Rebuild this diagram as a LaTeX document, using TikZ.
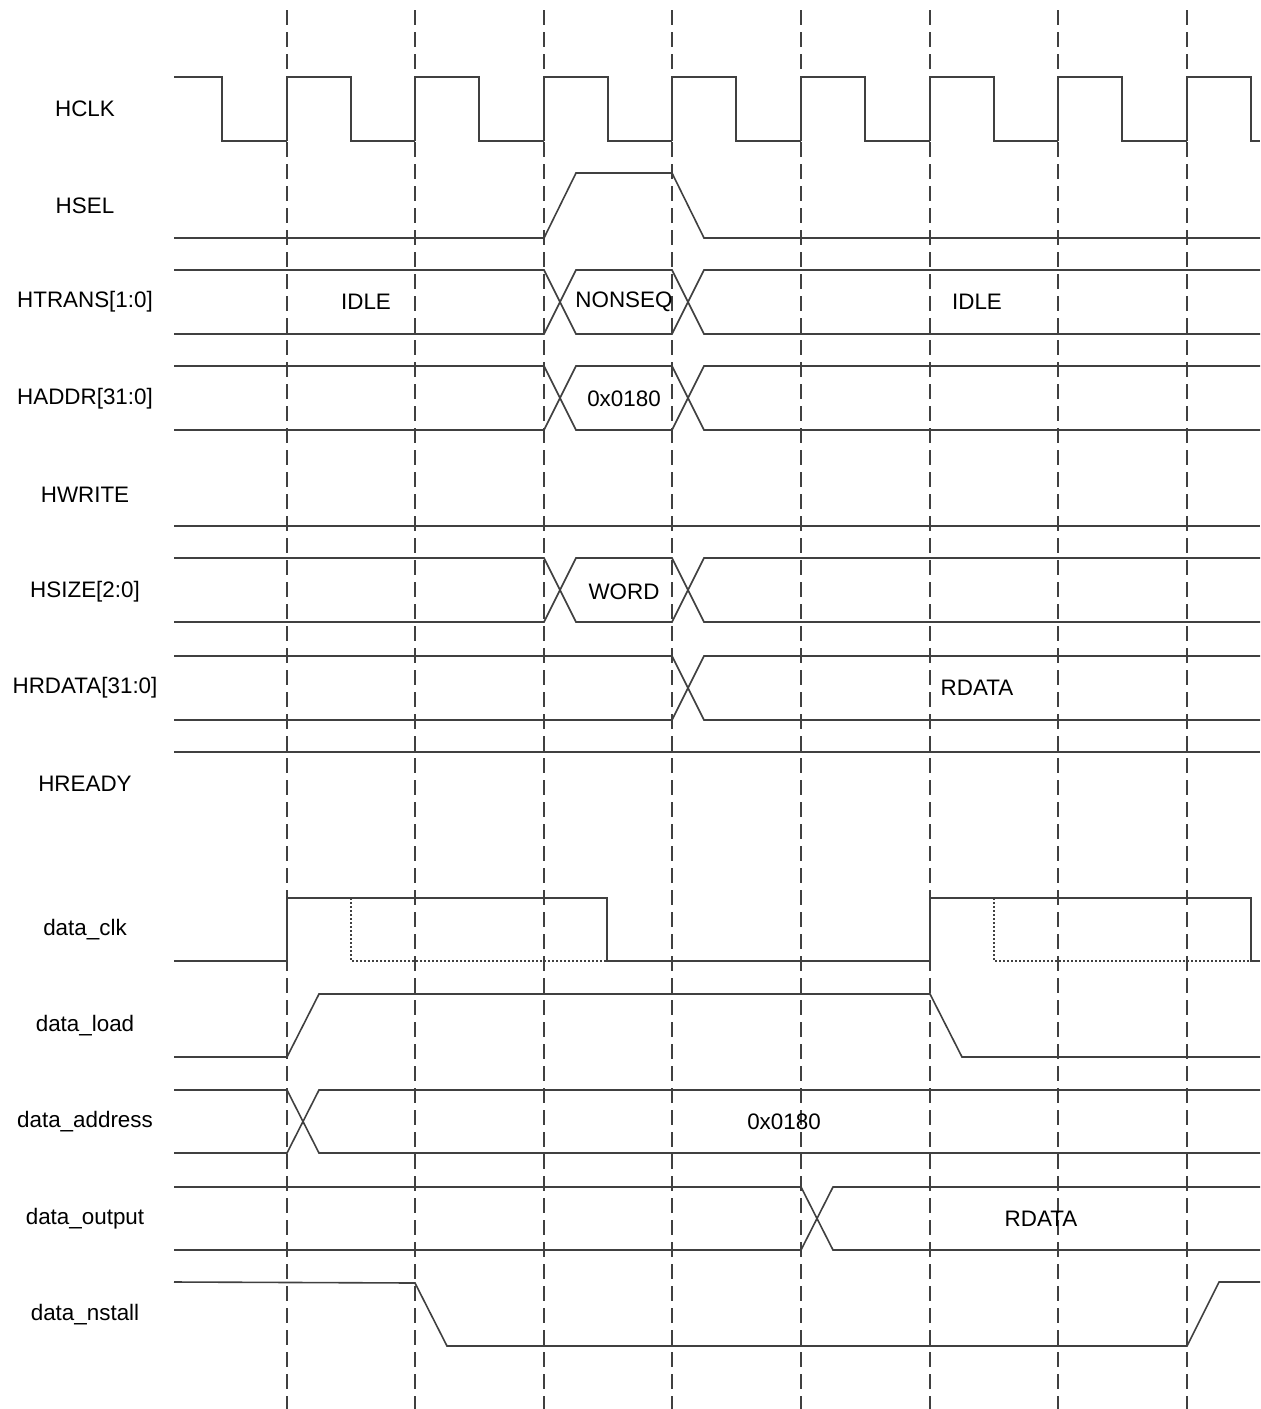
\documentclass[tikz,border=0pt]{standalone}
\usepackage{fontspec}
\setmainfont{Liberation Sans}
\usepackage{tikz}

\definecolor{wire}{HTML}{404040}

\begin{document}
\begin{tikzpicture}[x=0.5pt,y=-0.5pt,line width=0.8pt,
    wave/.style={draw=wire},
    guide/.style={draw=wire,dash pattern=on 7.5pt off 3.5pt},
    trace/.style={draw=wire,dash pattern=on 1pt off 1pt},
    signame/.style={font=\fontsize{11.2}{13}\selectfont,yshift=-1pt},
    busval/.style={font=\fontsize{11.2}{13}\selectfont,yshift=-1pt}]
    \useasboundingbox (0,0) rectangle (1260,1409);

    % clock edges
    \foreach \x in {287,415,544,672,801,930,1058,1187}
        \draw[guide] (\x,10) -- (\x,1409);

    % signal names
    \node[signame] (hclk)   at (85,107)  {HCLK};
    \node[signame] (hsel)   at (85,204)  {HSEL};
    \node[signame] (htrans) at (85,300)  {HTRANS[1:0]};
    \node[signame] (haddr)  at (85,397)  {HADDR[31:0]};
    \node[signame] (hwrite) at (85,493)  {HWRITE};
    \node[signame] (hsize)  at (85,590)  {HSIZE[2:0]};
    \node[signame] (hrdata) at (85,686)  {HRDATA[31:0]};
    \node[signame] (hready) at (85,782)  {HREADY};
    \node[signame] (dclk)   at (85,928)  {data\_clk};
    \node[signame] (dload)  at (85,1024) {data\_load};
    \node[signame] (daddr)  at (85,1120) {data\_address};
    \node[signame] (dout)   at (85,1217) {data\_output};
    \node[signame] (dnst)   at (85,1313) {data\_nstall};

    % HCLK
    \draw[wave] (174,77) -| (222,141) -- (287,141);
    \foreach \x/\y in {287/415,415/544,544/672,672/801,801/930,930/1058,1058/1187}
        \draw[wave] (\x,141) |- ({\x+64},77) |- (\y,141);
    \draw[wave] (1187,141) |- (1251,77) |- (1260,141);

    % HSEL
    \draw[wave] (174,238) -- (544,238) -- (576,173) -- (672,173) -- (704,238) -- (1260,238);

    % HTRANS
    \draw[wave] (174,270) -- (544,270) -- (576,334) -- (672,334) -- (704,270) -- (1260,270);
    \draw[wave] (174,334) -- (544,334) -- (576,270) -- (672,270) -- (704,334) -- (1260,334);
    \node[busval] (idle1)  at (366,300) {IDLE};
    \node[busval] (nonseq) at (624,300) {NONSEQ};
    \node[busval] (idle2)  at (977,300) {IDLE};

    % HADDR
    \draw[wave] (174,366) -- (544,366) -- (576,430) -- (672,430) -- (704,366) -- (1260,366);
    \draw[wave] (174,430) -- (544,430) -- (576,366) -- (672,366) -- (704,430) -- (1260,430);
    \node[busval] (addr) at (624,397) {0x0180};

    % HWRITE
    \draw[wave] (174,526) -- (1260,526);

    % HSIZE
    \draw[wave] (174,558) -- (544,558) -- (576,622) -- (672,622) -- (704,558) -- (1260,558);
    \draw[wave] (174,622) -- (544,622) -- (576,558) -- (672,558) -- (704,622) -- (1260,622);
    \node[busval] (word) at (624,590) {WORD};

    % HRDATA
    \draw[wave] (174,656) -- (672,656) -- (704,720) -- (1260,720);
    \draw[wave] (174,720) -- (672,720) -- (704,656) -- (1260,656);
    \node[busval] (rdata1) at (977,686) {RDATA};

    % HREADY
    \draw[wave] (174,752) -- (1260,752);

    % data_clk
    \draw[wave] (174,961) -| (287,898) -| (607,961) -| (930,898) -| (1251,961) -- (1260,961);
    \draw[trace] (351,898) |- (607,961);
    \draw[trace] (994,898) |- (1251,961);

    % data_load
    \draw[wave] (174,1057) -- (287,1057) -- (319,994) -- (930,994) -- (962,1057) -- (1260,1057);

    % data_address
    \draw[wave] (174,1090) -- (287,1090) -- (319,1153) -- (1260,1153);
    \draw[wave] (174,1153) -- (287,1153) -- (319,1090) -- (1260,1090);
    \node[busval] (addr2) at (784,1120) {0x0180};

    % data_output
    \draw[wave] (174,1187) -- (801,1187) -- (833,1250) -- (1260,1250);
    \draw[wave] (174,1250) -- (801,1250) -- (833,1187) -- (1260,1187);
    \node[busval] (rdata2) at (1041,1217) {RDATA};

    % data_nstall
    \draw[wave] (174,1282) -- (415,1283) -- (447,1346) -- (1187,1346) -- (1219,1282) -- (1260,1282);
\end{tikzpicture}
\end{document}
